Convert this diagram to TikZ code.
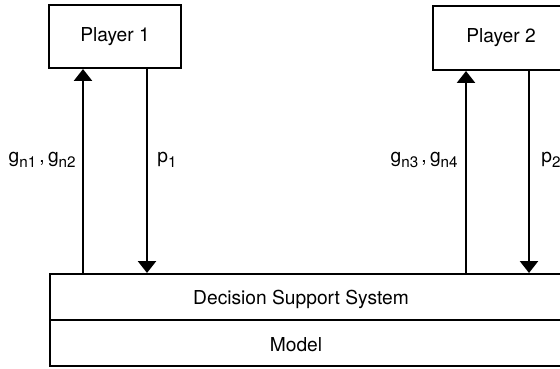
\documentclass[tikz,border=0pt]{standalone}
\usepackage{fontspec}
\setmainfont{TeX Gyre Heros}
\usetikzlibrary{arrows.meta,fit}
\newcommand{\lowsub}[1]{\raisebox{-0.45ex}{\fontsize{7.6}{8}\selectfont #1}}
\begin{document}
\begin{tikzpicture}[x=0.5pt,y=-0.5pt,
  every node/.style={font=\fontsize{9.6}{11}\selectfont},
  box/.style={draw,line width=1pt,rectangle,inner sep=0pt},
  flow/.style={line width=1.3pt,-{Triangle[width=9pt,length=6pt]}},
  lbl/.style={inner sep=0pt}]
\useasboundingbox (0,0) rectangle (560,368);
\clip (0,0) rectangle (560,368);
% players
\node[box,minimum width=66pt,minimum height=31.5pt] (p1) at (115,36.5) {Player 1};
\node[box,minimum width=68pt,minimum height=32pt] (p2) at (501,38) {Player 2};
% DSS and model
\node[lbl] (dsst) at (301,299) {Decision Support System};
\node[box,fit={(50,274) (580,320)}] (dss) {};
\node[lbl] (modelt) at (296,345) {Model};
\node[box,fit={(50,320) (580,366)}] (model) {};
% connectors
\draw[flow] (83,0 |- dss.north) -- (83,0 |- p1.south);
\draw[flow] (147,0 |- p1.south) -- (147,0 |- dss.north);
\draw[flow] (466,0 |- dss.north) -- (466,0 |- p2.south);
\draw[flow] (529,0 |- p2.south) -- (529,0 |- dss.north);
% labels
\node[lbl,anchor=base east] (g12) at (76,163) {g\lowsub{n1}\,,\,g\lowsub{n2}};
\node[lbl,anchor=base west] (pp1) at (157,163) {p\lowsub{1}};
\node[lbl,anchor=base east] (g34) at (458,163) {g\lowsub{n3}\,,\,g\lowsub{n4}};
\node[lbl,anchor=base west] (pp2) at (541,163) {p\lowsub{2}};
\end{tikzpicture}
\end{document}
